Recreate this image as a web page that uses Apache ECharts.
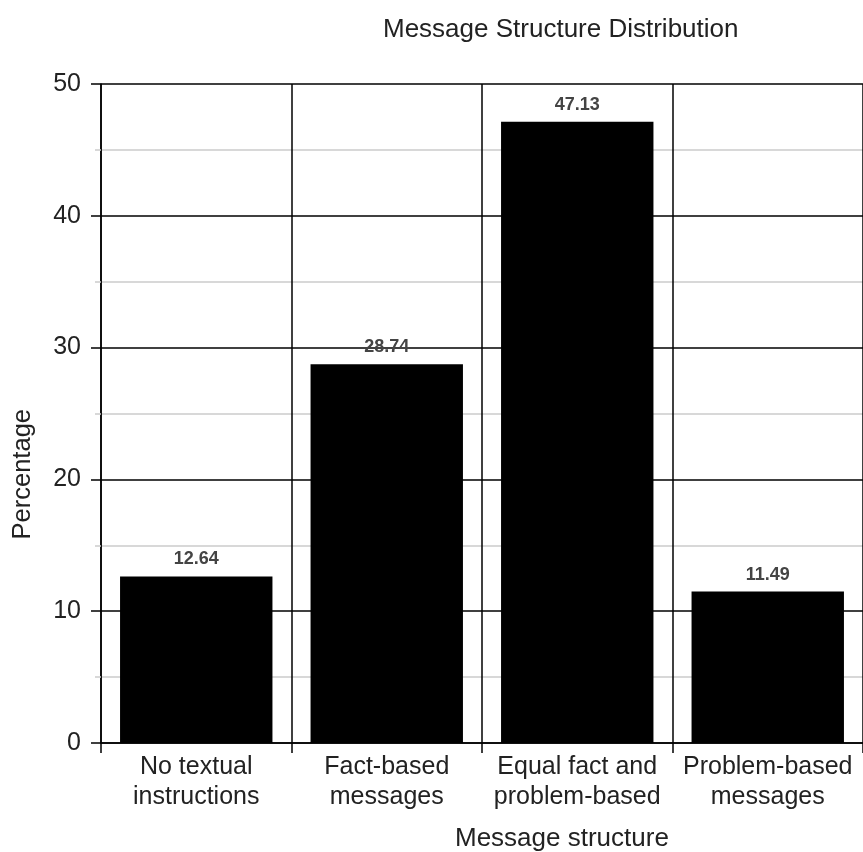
<!DOCTYPE html>
<html><head><meta charset="utf-8">
<script src="https://cdn.jsdelivr.net/npm/echarts@6/dist/echarts.min.js"></script>
<style>html,body{margin:0;padding:0;background:#fff}#c{width:863px;height:852px}</style>
</head><body><div id="c"></div>
<script>
const categories = ['No textual\ninstructions', 'Fact-based\nmessages', 'Equal fact and\nproblem-based', 'Problem-based\nmessages'];
const values = [12.64, 28.74, 47.13, 11.49];
const titleText = 'Message Structure Distribution';
const xName = 'Message structure';
const yName = 'Percentage';

const chart = echarts.init(document.getElementById('c'));
const font = 'Liberation Sans, Arial, sans-serif';
chart.setOption({
  backgroundColor: '#fff',
  animation: false,
  graphic: [
    {type:'text', left: 383, top: 17, style:{text: titleText, font: '26px ' + font, fill:'#222'}},
    {type:'text', left: 455, top: 826, style:{text: xName, font: '26px ' + font, fill:'#222'}},
    {type:'text', left: 10, top: 409, rotation: Math.PI/2, style:{text: yName, font: '25.5px ' + font, fill:'#222'}}
  ],
  grid: {left: 101, top: 84, width: 764, height: 659, containLabel: false},
  xAxis: {
    type: 'category', data: categories,
    axisLine: {show: true, lineStyle: {color: '#000', width: 1.5}},
    axisTick: {show: true, length: 10, lineStyle: {color: '#000', width: 1.5}},
    splitLine: {show: true, lineStyle: {color: '#000', width: 1.5}},
    axisLabel: {color: '#222', fontSize: 25, fontFamily: font, lineHeight: 30, margin: 9, interval: 0}
  },
  yAxis: {
    type: 'value', min: 0, max: 50, interval: 10,
    axisLine: {show: true, lineStyle: {color: '#000', width: 1.5}},
    axisTick: {show: true, length: 10, lineStyle: {color: '#000', width: 1.5}},
    splitLine: {show: true, lineStyle: {color: '#000', width: 1.5}},
    minorTick: {show: true, splitNumber: 2, length: 6, lineStyle: {color: '#ccc', width: 1.5}},
    minorSplitLine: {show: true, lineStyle: {color: '#ccc', width: 1.5}},
    axisLabel: {color: '#222', fontSize: 25, fontFamily: font, margin: 20}
  },
  series: [{
    type: 'bar', data: values, barWidth: '80%',
    itemStyle: {color: '#000'},
    label: {show: true, position: 'top', distance: 8, color: '#444', fontWeight: 'bold', fontSize: 18, fontFamily: font,
      formatter: p => p.value.toFixed(2)}
  }]
});
</script></body></html>
